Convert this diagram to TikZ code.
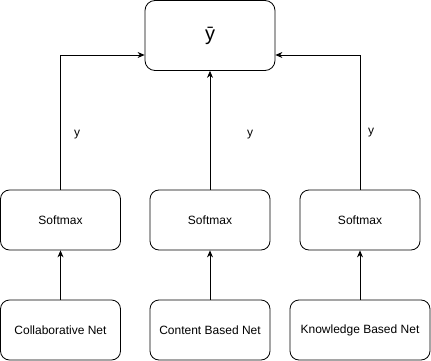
\documentclass[tikz,border=0pt]{standalone}
\usepackage{fontspec}
\setmainfont{Liberation Sans}
\usetikzlibrary{arrows.meta}
\begin{document}
\begin{tikzpicture}[x=1pt,y=-1pt,
  box/.style={draw,line width=0.8pt,rounded corners=9pt,inner sep=0pt,
    minimum width=120pt,minimum height=60pt,font=\fontsize{12}{14}\selectfont},
  conn/.style={line width=0.8pt,-{Stealth[length=7pt,width=6pt]}},
  lab/.style={font=\fontsize{12}{14}\selectfont,inner sep=0pt}]
\useasboundingbox (0,0) rectangle (431,361);
\node[box,minimum width=130pt,minimum height=70pt,rounded corners=10pt,font=\fontsize{20}{24}\selectfont] (y) at (210,35.5) {ȳ};
\node[box] (s1) at (60.5,220) {Softmax};
\node[box] (s2) at (210,220) {Softmax};
\node[box] (s3) at (360,220) {Softmax};
\node[box] (n1) at (60.5,330) {Collaborative Net};
\node[box] (n2) at (210,330) {Content Based Net};
\node[box,minimum width=140pt] (n3) at (360,330) {Knowledge Based Net};
\draw[conn] (n1) -- (s1);
\draw[conn] (n2) -- (s2);
\draw[conn] (n3) -- (s3);
\draw[conn] (s1.north) |- (y.west |- 0,55) coordinate (yl);
\draw[conn] (s2) -- (y);
\draw[conn] (s3.north) |- (y.east |- 0,55) coordinate (yr);
\node[lab] (l1) at (77,135) {y};
\node[lab] (l2) at (250,135) {y};
\node[lab] (l3) at (371,133) {y};
\end{tikzpicture}
\end{document}
